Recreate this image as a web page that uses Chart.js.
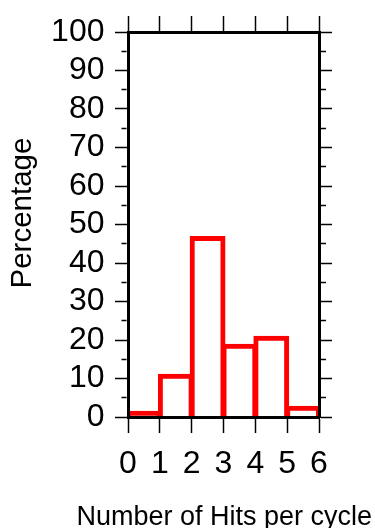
<!DOCTYPE html>
<html>
<head>
<meta charset="utf-8">
<script src="https://cdn.jsdelivr.net/npm/chart.js@4/dist/chart.umd.min.js"></script>
<style>
  html, body { margin: 0; padding: 0; background: #fff; }
  canvas { display: block; }
</style>
</head>
<body>
<canvas id="hist" width="375" height="528"></canvas>
<script>
// histogram bins (hits per cycle) and their share in percent
const binEdges = [0, 1, 2, 3, 4, 5, 6];
const percentages = [1.1, 10.7, 46.5, 18.5, 20.6, 2.4];
const yMin = 0, yMax = 100, yMajorStep = 10, yMinorStep = 5;
const xLabel = 'Number of Hits per cycle';
const yLabel = 'Percentage';

const sans = "'Liberation Sans', Arial, Helvetica, sans-serif";

Chart.defaults.color = '#000';

const points = percentages.map((p, i) => ({ x: (binEdges[i] + binEdges[i + 1]) / 2, y: p }));

// minor ticks: only the part next to the frame is drawn
const isMajor = (ctx) => ctx.tick && ctx.tick.value % yMajorStep === 0;

const frame = { display: true, color: '#000', width: 3, z: 1 };

const cht = document.getElementById('hist');

new Chart(cht, {
  type: 'bar',
  data: {
    datasets: [{
      data: points,
      backgroundColor: 'rgba(0,0,0,0)',
      borderColor: '#ff0000',
      borderWidth: 1,
      inflateAmount: 2,
      borderSkipped: 'bottom',
      barPercentage: 1,
      categoryPercentage: 1
    }]
  },
  options: {
    responsive: false,
    animation: false,
    layout: { padding: { left: 0, top: 0, bottom: 0, right: 3 } },
    plugins: {
      legend: { display: false },
      tooltip: { enabled: false },
      title: {
        display: true,
        text: xLabel,
        position: 'bottom',
        align: 'end',
        color: '#000',
        font: { family: sans, size: 27, weight: 'normal' },
        padding: { top: 0, bottom: -6 }
      }
    },
    scales: {
      x: {
        type: 'linear',
        position: 'bottom',
        min: binEdges[0],
        max: binEdges[binEdges.length - 1],
        offset: false,
        ticks: { stepSize: 1, autoSkip: false, maxRotation: 0, padding: 12, font: { family: sans, size: 32 } },
        grid: { offset: false, drawOnChartArea: false, drawTicks: true, tickLength: 16, tickWidth: 1.5, tickColor: '#000' },
        border: frame,
        afterFit: (s) => { s.height = 84.6; }
      },
      x2: {
        type: 'linear',
        position: 'top',
        min: binEdges[0],
        max: binEdges[binEdges.length - 1],
        offset: false,
        ticks: { stepSize: 1, display: false },
        grid: { offset: false, drawOnChartArea: false, drawTicks: true, tickLength: 16, tickWidth: 1.5, tickColor: '#000' },
        border: frame,
        afterFit: (s) => { s.height = 32; }
      },
      y: {
        type: 'linear',
        position: 'left',
        min: yMin,
        max: yMax,
        ticks: {
          stepSize: yMinorStep,
          autoSkip: false,
          padding: 10.5,
          font: { family: sans, size: 32 },
          callback: (v) => (v % yMajorStep === 0 ? v : '')
        },
        grid: {
          drawOnChartArea: false,
          drawTicks: true,
          tickLength: 13,
          tickWidth: 1.5,
          tickColor: '#000',
          tickBorderDash: (ctx) => (isMajor(ctx) ? [] : [0, 6.5, 5, 100])
        },
        border: frame,
        title: { display: true, text: '\u2002 ' + yLabel, font: { family: sans, size: 29.5 }, padding: { top: 5, bottom: 0 } },
        afterFit: (s) => { s.width = 128; }
      },
      y2: {
        type: 'linear',
        position: 'right',
        min: yMin,
        max: yMax,
        ticks: { stepSize: yMinorStep, autoSkip: false, display: false },
        grid: {
          drawOnChartArea: false,
          drawTicks: true,
          tickLength: 13,
          tickWidth: 1.5,
          tickColor: '#000',
          tickBorderDash: (ctx) => (isMajor(ctx) ? [] : [5, 100])
        },
        border: frame,
        afterFit: (s) => { s.width = 53; }
      }
    }
  }
});
</script>
</body>
</html>
